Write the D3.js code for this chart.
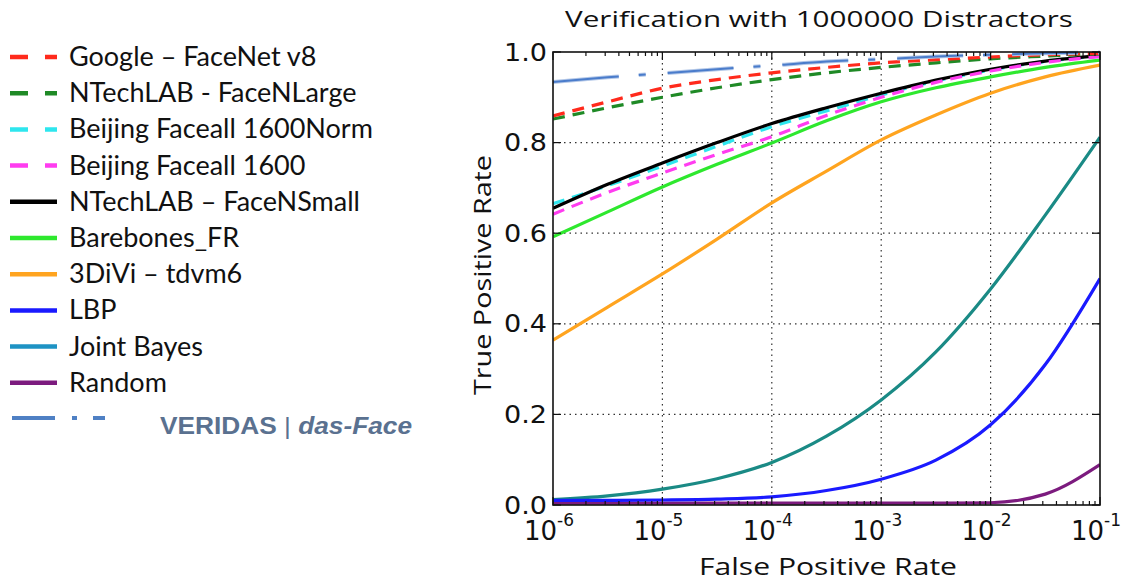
<!DOCTYPE html>
<html>
<head>
<meta charset="utf-8">
<script src="https://cdn.jsdelivr.net/npm/d3@7/dist/d3.min.js"></script>
<style>
  html, body { margin: 0; padding: 0; background: #fff; }
  svg { display: block; }
</style>
</head>
<body>
<svg id="chart" width="1126" height="584"></svg>
<script>
// ---------- DATA ----------
const fpr = [1e-6, 3.16e-6, 1e-5, 3.16e-5, 1e-4, 3.16e-4, 1e-3, 3.16e-3, 1e-2, 3.16e-2, 1e-1];

const googleFaceNet   = [0.859, 0.890, 0.920, 0.939, 0.954, 0.966, 0.976, 0.983, 0.989, 0.994, 0.997];
const ntechLarge      = [0.852, 0.877, 0.900, 0.921, 0.939, 0.954, 0.966, 0.976, 0.985, 0.991, 0.996];
const faceall1600Norm = [0.665, 0.705, 0.748, 0.792, 0.835, 0.870, 0.905, 0.936, 0.960, 0.979, 0.991];
const faceall1600     = [0.642, 0.690, 0.733, 0.774, 0.813, 0.860, 0.900, 0.933, 0.958, 0.977, 0.990];
const ntechSmall      = [0.655, 0.708, 0.755, 0.800, 0.842, 0.877, 0.909, 0.938, 0.962, 0.980, 0.992];
const barebonesFR     = [0.592, 0.647, 0.702, 0.752, 0.799, 0.848, 0.890, 0.921, 0.945, 0.966, 0.982];
const tdvm6           = [0.364, 0.437, 0.510, 0.587, 0.667, 0.737, 0.806, 0.861, 0.909, 0.945, 0.971];
const lbp             = [0.010, 0.010, 0.011, 0.013, 0.018, 0.032, 0.057, 0.099, 0.177, 0.310, 0.500];
const jointBayes      = [0.012, 0.020, 0.035, 0.058, 0.094, 0.152, 0.232, 0.338, 0.477, 0.640, 0.812];
const randomTPR       = [0.004, 0.004, 0.004, 0.004, 0.004, 0.004, 0.004, 0.004, 0.005, 0.024, 0.089];
const veridas         = [0.934, 0.944, 0.953, 0.962, 0.970, 0.979, 0.984, 0.990, 0.994, 0.997, 0.999];

const seriesNames = ["Google \u2013 FaceNet v8", "NTechLAB - FaceNLarge", "Beijing Faceall 1600Norm",
  "Beijing Faceall 1600", "NTechLAB \u2013 FaceNSmall", "Barebones_FR", "3DiVi \u2013 tdvm6",
  "LBP", "Joint Bayes", "Random"];

const xTickExps = [-6, -5, -4, -3, -2, -1];
const yTicks = [0.0, 0.2, 0.4, 0.6, 0.8, 1.0];
const titleText = "Verification with 1000000 Distractors";
const xLabelText = "False Positive Rate";
const yLabelText = "True Positive Rate";

// ---------- STYLES ----------
const series = [
  {name: seriesNames[0], values: googleFaceNet,   color: "#ff2a1c", dash: "12,8"},
  {name: seriesNames[1], values: ntechLarge,      color: "#1f8a26", dash: "12,8"},
  {name: seriesNames[2], values: faceall1600Norm, color: "#2ee6ee", dash: "12,8"},
  {name: seriesNames[3], values: faceall1600,     color: "#ff3cf0", dash: "12,8"},
  {name: seriesNames[4], values: ntechSmall,      color: "#000000", dash: null},
  {name: seriesNames[5], values: barebonesFR,     color: "#2ee82e", dash: null},
  {name: seriesNames[6], values: tdvm6,           color: "#ffa41f", dash: null},
  {name: seriesNames[7], values: lbp,             color: "#1a1aff", dash: null},
  {name: seriesNames[8], values: jointBayes,      color: "#1a8a85", dash: null, legendColor: "#1e93c4"},
  {name: seriesNames[9], values: randomTPR,       color: "#7c1b7e", dash: null}
];

const svg = d3.select("#chart");
svg.append("rect").attr("width", 1126).attr("height", 584).attr("fill", "#fff");

const L = 553, R = 1100, T = 52, B = 505;
const x = d3.scaleLog().domain([1e-6, 1e-1]).range([L, R]);
const y = d3.scaleLinear().domain([0, 1]).range([B, T]);

svg.append("defs").append("clipPath").attr("id", "clip")
  .append("rect").attr("x", L).attr("y", T - 2).attr("width", R - L).attr("height", B - T + 2);

// grid
const g = svg.append("g");
g.selectAll(".gx").data(xTickExps.slice(1, -1)).enter().append("line")
  .attr("x1", d => x(Math.pow(10, d))).attr("x2", d => x(Math.pow(10, d)))
  .attr("y1", T).attr("y2", B)
  .attr("stroke", "#333").attr("stroke-width", 1.2).attr("stroke-dasharray", "1.5,4");
g.selectAll(".gy").data(yTicks.slice(1, -1)).enter().append("line")
  .attr("y1", d => y(d)).attr("y2", d => y(d))
  .attr("x1", L).attr("x2", R)
  .attr("stroke", "#333").attr("stroke-width", 1.2).attr("stroke-dasharray", "1.5,4");

// lines
const line = d3.line().x((d, i) => x(fpr[i])).y(d => y(d)).curve(d3.curveMonotoneX);
const plot = svg.append("g").attr("clip-path", "url(#clip)");
const drawOrder = [9, 8, 7, 6, 5, 2, 4, 3, 1, 0];
drawOrder.forEach(i => {
  const s = series[i];
  plot.append("path").datum(s.values).attr("d", line)
    .attr("fill", "none").attr("stroke", s.color).attr("stroke-width", 3.2)
    .attr("stroke-dasharray", s.dash);
});
// VERIDAS dash-dot
plot.append("path").datum(veridas).attr("d", line)
  .attr("fill", "none").attr("stroke", "#b4c8e8").attr("stroke-width", 4)
  .attr("stroke-dasharray", "66,20,7,22");
plot.append("path").datum(veridas).attr("d", line)
  .attr("fill", "none").attr("stroke", "#4a7ccb").attr("stroke-width", 2)
  .attr("stroke-dasharray", "66,20,7,22");

// frame
svg.append("rect").attr("x", L).attr("y", T).attr("width", R - L).attr("height", B - T)
  .attr("fill", "none").attr("stroke", "#111").attr("stroke-width", 1.6);

// ticks
const ticks = svg.append("g").attr("stroke", "#111").attr("stroke-width", 1.2);
xTickExps.forEach(e => {
  const xv = x(Math.pow(10, e));
  ticks.append("line").attr("x1", xv).attr("x2", xv).attr("y1", B).attr("y2", B - 8);
  ticks.append("line").attr("x1", xv).attr("x2", xv).attr("y1", T).attr("y2", T + 8);
  if (e < -1) {
    for (let m = 2; m <= 9; m++) {
      const xm = x(m * Math.pow(10, e));
      ticks.append("line").attr("x1", xm).attr("x2", xm).attr("y1", B).attr("y2", B - 4);
      ticks.append("line").attr("x1", xm).attr("x2", xm).attr("y1", T).attr("y2", T + 4);
    }
  }
});
yTicks.forEach(v => {
  ticks.append("line").attr("x1", L).attr("x2", L + 8).attr("y1", y(v)).attr("y2", y(v));
  ticks.append("line").attr("x1", R).attr("x2", R - 8).attr("y1", y(v)).attr("y2", y(v));
});

// tick labels
const tickFont = "'DejaVu Sans', sans-serif";
svg.append("g").selectAll("text").data(yTicks).enter().append("text")
  .attr("x", L - 6).attr("y", d => y(d) + 8.5)
  .attr("text-anchor", "end").attr("font-family", tickFont).attr("font-size", 24)
  .attr("textLength", 43).attr("lengthAdjust", "spacingAndGlyphs")
  .attr("fill", "#111").text(d => d.toFixed(1));

const xl = svg.append("g");
xTickExps.forEach(e => {
  const t = xl.append("text").attr("x", x(Math.pow(10, e)) - 4).attr("y", 540)
    .attr("text-anchor", "middle").attr("font-family", tickFont).attr("fill", "#111");
  t.append("tspan").attr("font-size", 26).text("10");
  t.append("tspan").attr("font-size", 17).attr("dy", -14).text("-" + Math.abs(e));
});

// axis labels & title
const labFont = "'Open Sans', sans-serif";
svg.append("text").attr("x", 828).attr("y", 575).attr("text-anchor", "middle")
  .attr("font-family", labFont).attr("font-size", 23).attr("fill", "#111")
  .attr("textLength", 258).attr("lengthAdjust", "spacingAndGlyphs").text(xLabelText);
svg.append("text").attr("transform", "translate(491,275) rotate(-90)").attr("text-anchor", "middle")
  .attr("font-family", labFont).attr("font-size", 23).attr("fill", "#111")
  .attr("textLength", 240).attr("lengthAdjust", "spacingAndGlyphs").text(yLabelText);
svg.append("text").attr("x", 819).attr("y", 27).attr("text-anchor", "middle")
  .attr("font-family", labFont).attr("font-size", 21).attr("fill", "#111")
  .attr("textLength", 508).attr("lengthAdjust", "spacingAndGlyphs").text(titleText);

// legend
const leg = svg.append("g");
const legY0 = 57, legStep = 36.2;
series.forEach((s, i) => {
  const yy = legY0 + i * legStep;
  leg.append("line").attr("x1", 10).attr("x2", 57).attr("y1", yy).attr("y2", yy)
    .attr("stroke", s.legendColor || s.color).attr("stroke-width", 4.5)
    .attr("stroke-dasharray", s.dash ? "18,17" : null);
  leg.append("text").attr("x", 69).attr("y", yy + 9)
    .attr("font-family", "Lato, 'Open Sans', sans-serif").attr("font-size", 27)
    .attr("fill", "#111").text(s.name);
});
// VERIDAS legend entry
const vy = 418;
leg.append("line").attr("x1", 12).attr("x2", 105).attr("y1", vy).attr("y2", vy)
  .attr("stroke", "#4f80c4").attr("stroke-width", 4).attr("stroke-dasharray", "43,17,5,16,12");
const vt = leg.append("text").attr("x", 160).attr("y", 434)
  .attr("font-family", "'Liberation Sans', Arial, sans-serif").attr("font-size", 24.5)
  .attr("font-weight", "bold").attr("fill", "#5a7190")
  .attr("textLength", 252).attr("lengthAdjust", "spacingAndGlyphs");
vt.append("tspan").text("VERIDAS ");
vt.append("tspan").attr("font-weight", "normal").text("| ");
vt.append("tspan").attr("font-style", "italic").text("das-Face");
</script>
</body>
</html>
